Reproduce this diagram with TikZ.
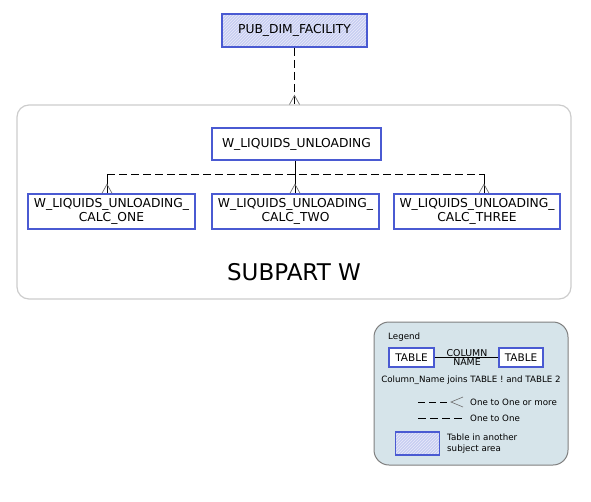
\documentclass[tikz,border=0pt]{standalone}
\usepackage{fontspec}
\setmainfont{DejaVu Sans}
\usetikzlibrary{patterns,calc}
\definecolor{tblue}{HTML}{4A5AD2}
\definecolor{hatchfill}{HTML}{C8CEF2}
\definecolor{legfill}{HTML}{D6E4EA}
\definecolor{legdraw}{HTML}{7F7F7F}
\definecolor{subdraw}{HTML}{CCCCCC}
\definecolor{footgrey}{HTML}{707070}
\tikzset{
  tbl/.style={draw=tblue, line width=1.5pt, fill=white, font=\fontsize{12.3}{14.5}\selectfont, align=center, inner sep=0pt},
  hatched/.style={preaction={fill=hatchfill}, pattern=north east lines, pattern color=white!60!hatchfill},
  rel/.style={line width=0.9pt, dash pattern=on 8pt off 4pt},
  foot/.style={footgrey, line width=0.7pt},
  small/.style={font=\fontsize{8.7}{11}\selectfont, inner sep=0pt},
}
\begin{document}
\begin{tikzpicture}[x=1pt,y=-1pt]
\useasboundingbox (0,0) rectangle (591,501);
% subject area frame
\node[draw=subdraw, line width=1.2pt, rounded corners=12pt, minimum width=554pt, minimum height=194pt, inner sep=0pt] (sub) at (294,202) {};
\node[font=\fontsize{23}{27}\selectfont] (subt) at (294,272) {SUBPART W};
% tables
\node[tbl, hatched, minimum width=145pt, minimum height=33pt] (pub) at (294.5,30.5) {PUB\_DIM\_FACILITY};
\node[tbl, minimum width=169pt, minimum height=32pt] (wl) at (296.5,144) {W\_LIQUIDS\_UNLOADING};
\node[tbl, minimum width=167pt, minimum height=35pt] (one) at (111.5,211.5) {W\_LIQUIDS\_UNLOADING\_\\CALC\_ONE};
\node[tbl, minimum width=167pt, minimum height=35pt] (two) at (295.5,211.5) {W\_LIQUIDS\_UNLOADING\_\\CALC\_TWO};
\node[tbl, minimum width=166pt, minimum height=35pt] (three) at (477,211.5) {W\_LIQUIDS\_UNLOADING\_\\CALC\_THREE};
% connector pub -> subject area
\coordinate (pa) at (pub.south);
\coordinate (pb) at (pub.south |- sub.north);
\draw[rel] (pa) -- (pb);
\draw[foot] ($(pb)+(-5,0)$) -- ($(pb)+(0,-9)$) -- ($(pb)+(5,0)$);
% connectors wl -> children
\coordinate (ja) at (107,174);
\coordinate (jb) at (295,174);
\coordinate (jc) at (484,174);
\coordinate (ea) at (ja |- one.north);
\coordinate (eb) at (jb |- two.north);
\coordinate (ec) at (jc |- three.north);
\draw[line width=0.9pt] (wl.south -| jb) -- (eb);
\draw[rel] (ja) -- (jc);
\draw[line width=0.9pt] (ja) -- (ea);
\draw[line width=0.9pt] (jc) -- (ec);
\foreach \p in {ea,eb,ec}{
  \draw[foot] ($(\p)+(-5,0)$) -- ($(\p)+(0,-9)$) -- ($(\p)+(5,0)$);
}
% legend
\node[draw=legdraw, fill=legfill, line width=1pt, rounded corners=15pt, minimum width=194pt, minimum height=143pt, inner sep=0pt] (leg) at (471,393.5) {};
\node[small, anchor=west] (legt) at (388,337) {Legend};
\node[tbl, line width=1.4pt, minimum width=45pt, minimum height=19pt, font=\fontsize{10.5}{12}\selectfont] (lt1) at (411.5,357.5) {TABLE};
\node[tbl, line width=1.4pt, minimum width=44pt, minimum height=19pt, font=\fontsize{10.5}{12}\selectfont] (lt2) at (521,357.5) {TABLE};
\draw[line width=0.6pt] (lt1.east) -- (lt2.west);
\node[small, font=\fontsize{9.4}{11}\selectfont, anchor=south, inner sep=0.8pt] (colt) at (467,357.5) {COLUMN};
\node[small, font=\fontsize{9.4}{11}\selectfont, anchor=north, inner sep=0.8pt] (namet) at (467,357.5) {NAME};
\node[small] (joins) at (471,380) {Column\_Name joins TABLE ! and TABLE 2};
\coordinate (r1a) at (418,402);
\coordinate (r1b) at (451,402);
\draw[line width=0.6pt, dash pattern=on 7pt off 4pt] (r1a) -- (r1b);
\draw[foot, line width=0.6pt] ($(r1b)+(12,-5)$) -- (r1b) -- ($(r1b)+(12,5)$);
\node[small, anchor=west] (r1t) at (470,402) {One to One or more};
\coordinate (r2a) at (418,418);
\coordinate (r2b) at (462,418);
\draw[line width=0.6pt, dash pattern=on 8pt off 4pt] (r2a) -- (r2b);
\node[small, anchor=west] (r2t) at (470,418) {One to One};
\node[tbl, hatched, line width=1.4pt, minimum width=44pt, minimum height=23pt] (lh) at (417.5,443.5) {};
\node[small, anchor=west, align=left] (lht) at (447,443.5) {Table in another\\subject area};
\end{tikzpicture}
\end{document}
